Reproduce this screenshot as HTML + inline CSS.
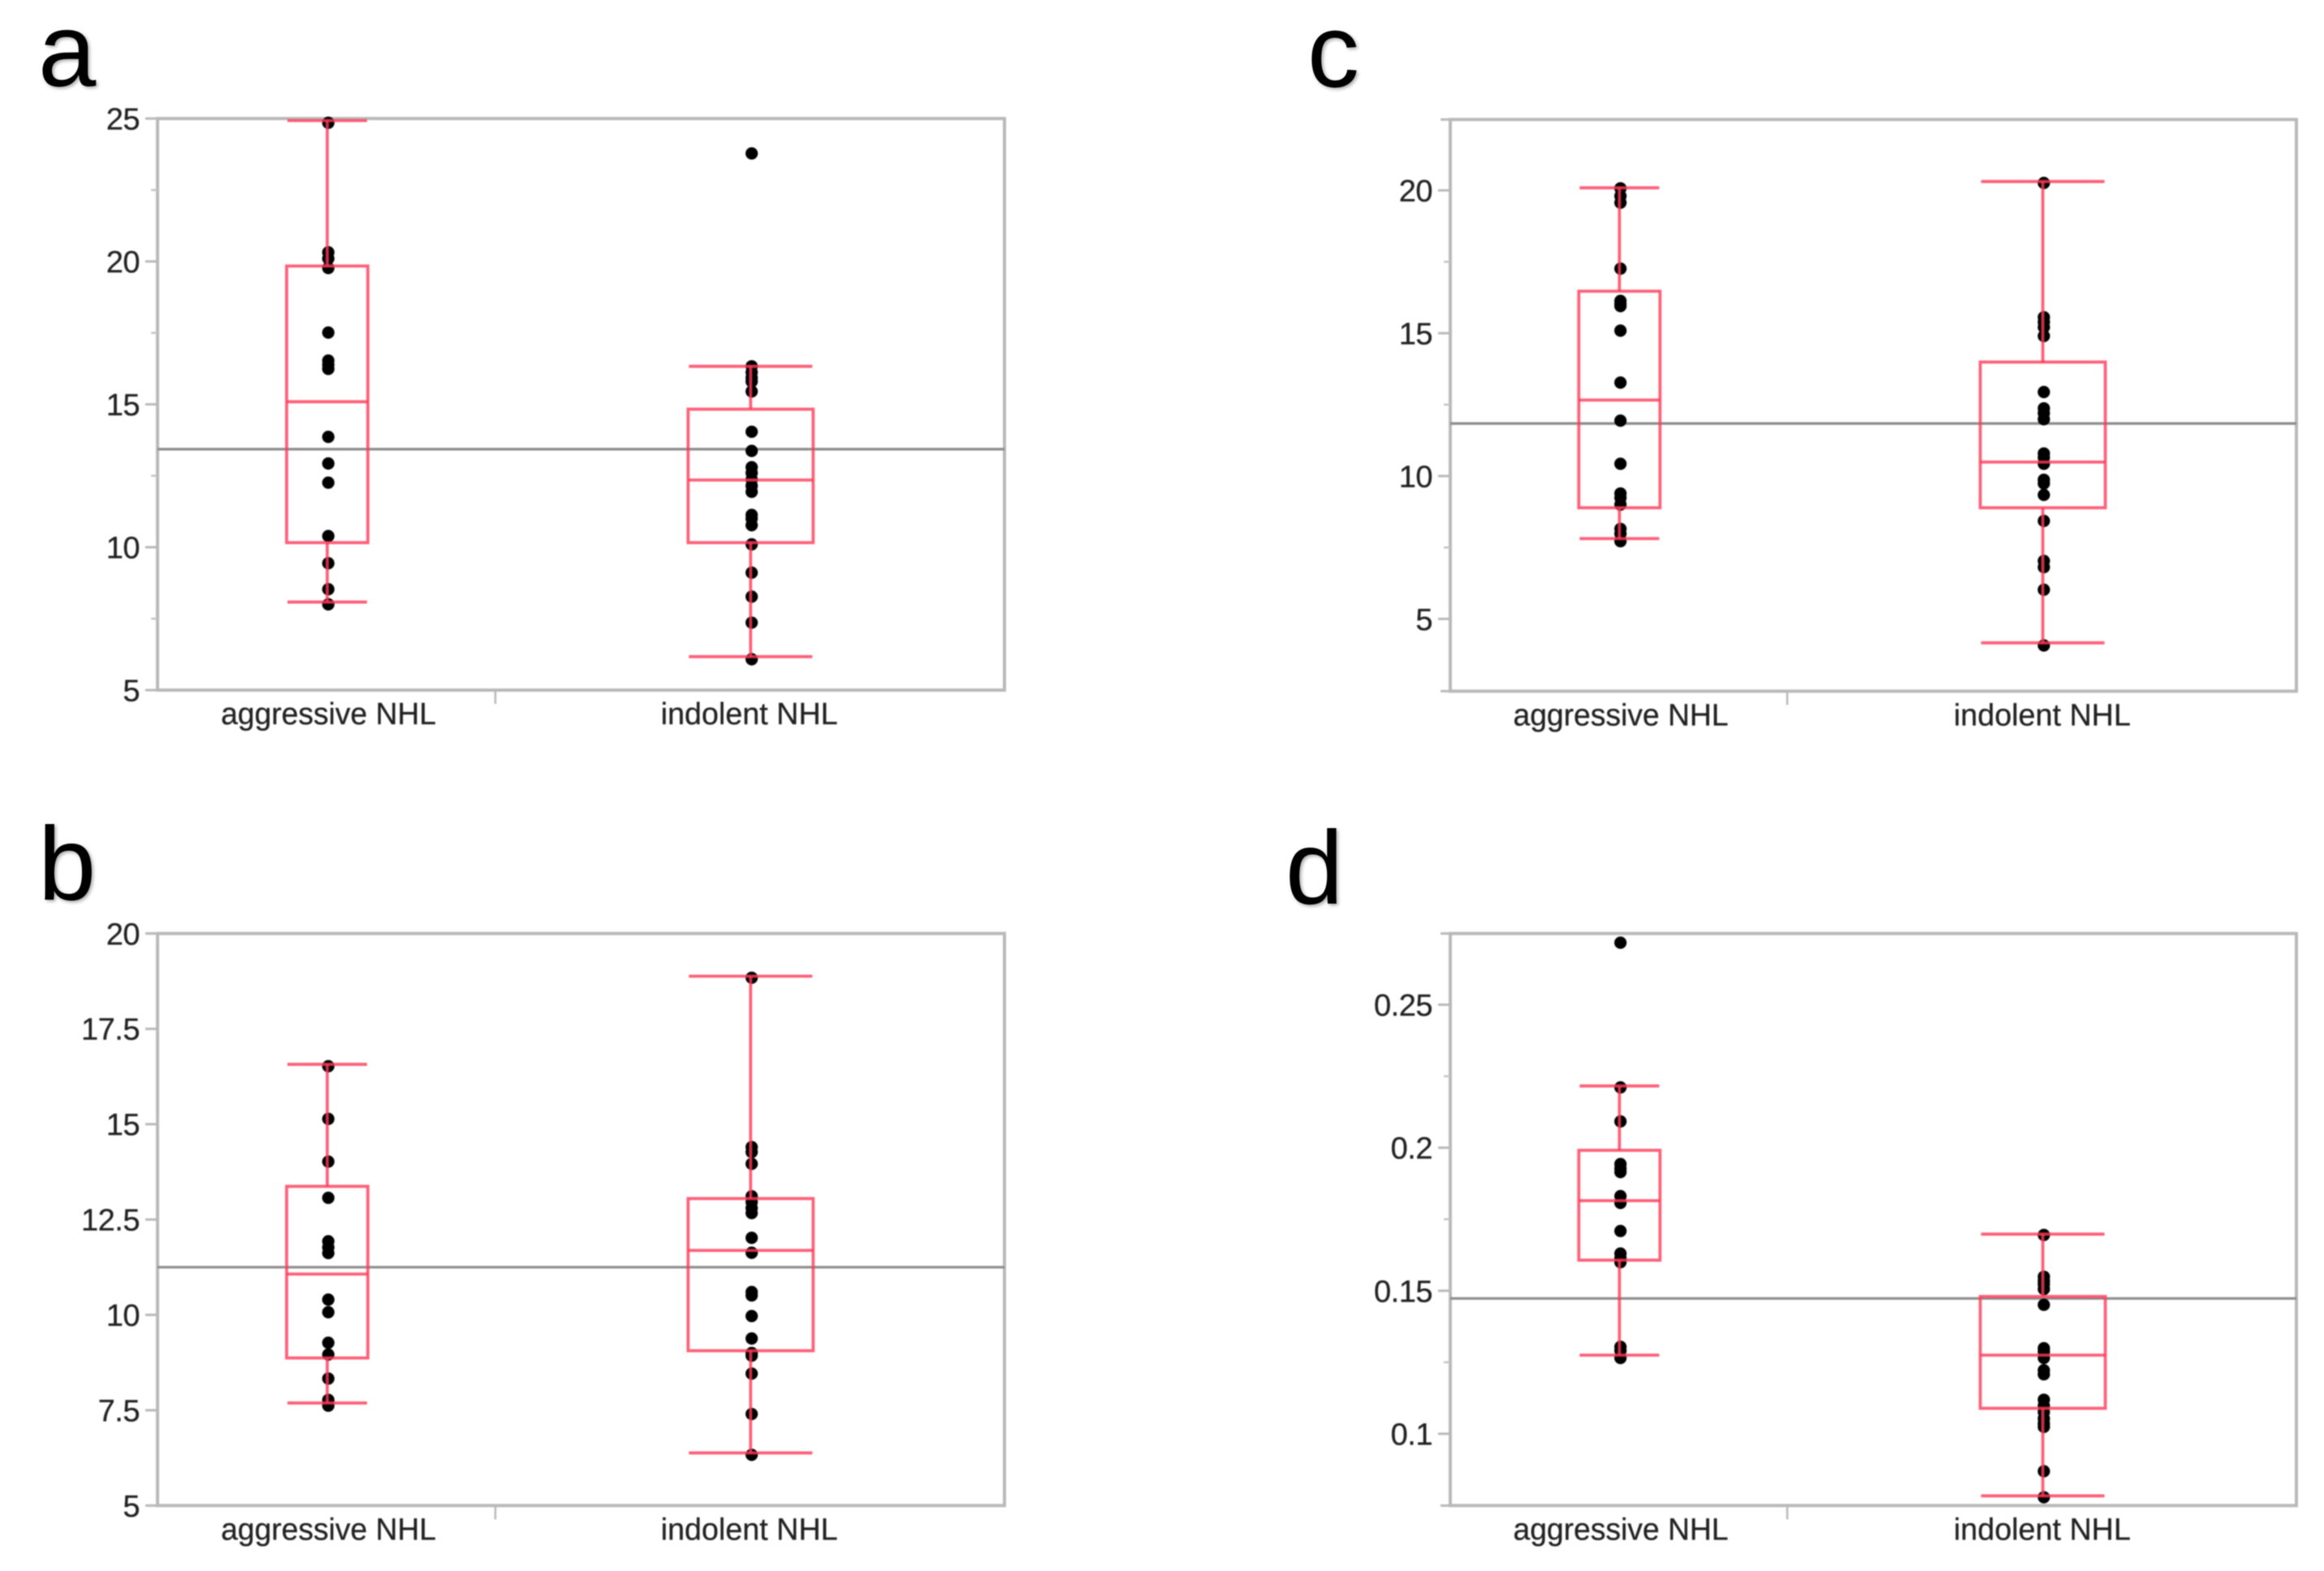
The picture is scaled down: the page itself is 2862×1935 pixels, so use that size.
<!DOCTYPE html>
<html lang="en">
<head>
<meta charset="utf-8">
<title>Box plots a-d: aggressive vs indolent NHL</title>
<style>
  html, body { margin: 0; padding: 0; background: #fff; }
  body { width: 2862px; height: 1935px; overflow: hidden; }
  svg { display: block; font-family: "Liberation Sans", sans-serif; }
  #plots { filter: blur(0.8px); }
  .panel-letter { font-size: 128px; fill: #000; filter: blur(0.6px) drop-shadow(2px 2px 2px rgba(0,0,0,.35)); }
  .tick-label { font-size: 38px; fill: #222; stroke: #222; stroke-width: 0.3px; }
  .category-label { font-size: 38px; fill: #222; stroke: #222; stroke-width: 0.3px; }
</style>
</head>
<body>
<svg id="figure" width="2862" height="1935" viewBox="0 0 2862 1935" xmlns="http://www.w3.org/2000/svg">
  <rect width="2862" height="1935" fill="#fff"></rect>
  <text class="panel-letter" x="47" y="106">a</text>
  <text class="panel-letter" x="1610" y="107">c</text>
  <text class="panel-letter" x="47" y="1108">b</text>
  <text class="panel-letter" x="1583" y="1113">d</text>
  <g id="plots"></g>
</svg>
<script>
// Shared categories
var categories = ['aggressive NHL', 'indolent NHL'];

// Panel a
var aDomain = [5, 25];
var aTicks = ['5', '10', '15', '20', '25'];
var aMinorTicks = [7.5, 12.5, 17.5, 22.5];
var aMean = 13.43;
var aAggressive = [24.85, 20.32, 20.1, 19.77, 17.51, 16.53, 16.38, 16.24, 13.86, 12.93, 12.26, 10.39, 9.44, 8.53, 8.0];
var aIndolent = [23.78, 16.33, 16.12, 15.93, 15.8, 15.45, 14.04, 13.37, 12.8, 12.6, 12.37, 12.15, 11.94, 11.13, 11.0, 10.77, 10.1, 9.11, 8.27, 7.36, 6.08];
var aAggressiveBox = [8.08, 10.16, 15.09, 19.84, 24.93];
var aIndolentBox = [6.17, 10.16, 12.35, 14.83, 16.33];

// Panel b
var bDomain = [5, 20];
var bTicks = ['5', '7.5', '10', '12.5', '15', '17.5', '20'];
var bMinorTicks = [];
var bMean = 11.25;
var bAggressive = [16.52, 15.14, 14.02, 13.07, 11.93, 11.77, 11.62, 10.4, 10.07, 9.27, 8.96, 8.33, 7.77, 7.62];
var bIndolent = [18.84, 14.4, 14.27, 13.96, 13.11, 12.96, 12.8, 12.67, 12.02, 11.63, 10.6, 10.51, 9.97, 9.38, 9.0, 8.93, 8.46, 7.4, 6.33];
var bAggressiveBox = [7.69, 8.87, 11.07, 13.37, 16.57];
var bIndolentBox = [6.38, 9.06, 11.69, 13.05, 18.88];

// Panel c
var cDomain = [2.47, 22.48];
var cTicks = ['5', '10', '15', '20'];
var cMinorTicks = [7.5, 12.5, 17.5];
var cMean = 11.84;
var cAggressive = [20.07, 19.8, 19.57, 17.26, 16.13, 16.02, 15.95, 15.09, 13.27, 11.94, 10.43, 9.39, 9.24, 9.0, 8.15, 7.98, 7.72];
var cIndolent = [20.26, 15.56, 15.39, 15.21, 14.9, 12.94, 12.37, 12.2, 11.99, 10.79, 10.65, 10.43, 9.87, 9.74, 9.34, 8.43, 7.03, 6.81, 6.02, 4.07];
var cAggressiveBox = [7.81, 8.89, 12.66, 16.47, 20.09];
var cIndolentBox = [4.16, 8.89, 10.49, 13.99, 20.31];

// Panel d
var dDomain = [0.0749, 0.2749];
var dTicks = ['0.1', '0.15', '0.2', '0.25'];
var dMinorTicks = [0.125, 0.175, 0.225];
var dMean = 0.1473;
var dAggressive = [0.2717, 0.2211, 0.2092, 0.1943, 0.1927, 0.1915, 0.1831, 0.1807, 0.1709, 0.163, 0.1614, 0.16, 0.1304, 0.1291, 0.1265];
var dIndolent = [0.1695, 0.1549, 0.1535, 0.1523, 0.1506, 0.1451, 0.1299, 0.1287, 0.1265, 0.1222, 0.1208, 0.1119, 0.1098, 0.1076, 0.1053, 0.1036, 0.1024, 0.0869, 0.0778];
var dAggressiveBox = [0.1275, 0.1607, 0.1815, 0.1991, 0.2216];
var dIndolentBox = [0.0783, 0.1089, 0.1275, 0.148, 0.1698];

var SVG_NS = 'http://www.w3.org/2000/svg';
var RED = '#ff3a58';
var root = document.getElementById('plots');

function make(parent, tag, attrs) {
  var el = document.createElementNS(SVG_NS, tag);
  for (var k in attrs) el.setAttribute(k, attrs[k]);
  parent.appendChild(el);
  return el;
}

function seg(parent, x1, y1, x2, y2, color, width, opacity) {
  return make(parent, 'line', {x1: x1, y1: y1, x2: x2, y2: y2, stroke: color, 'stroke-width': width, 'stroke-opacity': opacity === undefined ? 1 : opacity});
}

function drawBox(parent, yScale, stats, cx, halfBox, halfCap, label) {
  var lo = yScale(stats[0]), q1 = yScale(stats[1]), med = yScale(stats[2]), q3 = yScale(stats[3]), hi = yScale(stats[4]);
  var g = make(parent, 'g', {});
  
  

  var upper = seg(g, cx, hi, cx, q3, RED, 3.8, 0.8);
  
  

  var lower = seg(g, cx, q1, cx, lo, RED, 3.8, 0.8);
  
  

  var capHi = seg(g, cx - halfCap, hi, cx + halfCap, hi, RED, 3.8, 0.8);
  
  

  var capLo = seg(g, cx - halfCap, lo, cx + halfCap, lo, RED, 3.8, 0.8);
  
  

  var rect = make(g, 'rect', {x: cx - halfBox, y: q3, width: halfBox * 2, height: q1 - q3, fill: 'none', stroke: RED, 'stroke-width': 3.8, 'stroke-opacity': 0.8});
  
  

  var medLine = seg(g, cx - halfBox, med, cx + halfBox, med, RED, 3.8, 0.8);
  
  
}

function drawPanel(key, geom, domain, ticks, minorTicks, mean, series, boxes) {
  var top = geom.top, bottom = geom.bottom, left = geom.left, right = geom.right;
  function y(v) { return bottom - (v - domain[0]) / (domain[1] - domain[0]) * (bottom - top); }

  var panel = make(root, 'g', {});
  
  

  var frame = make(panel, 'rect', {x: left, y: top, width: right - left, height: bottom - top, fill: 'none', stroke: '#b9b9b9', 'stroke-width': 4});
  
  

  // end-of-axis stubs
  var stubTop = seg(panel, left - 12, top, left, top, '#b9b9b9', 3);
  
  

  var stubBottom = seg(panel, left - 12, bottom, left, bottom, '#b9b9b9', 3);
  
  

  ticks.forEach(function (t) {
    var ty = y(parseFloat(t));
    var mark = seg(panel, left - 15, ty, left, ty, '#b9b9b9', 3);
    
    

    var label = make(panel, 'text', {x: left - 22, y: ty + 13.5, 'text-anchor': 'end', 'class': 'tick-label', 'letter-spacing': '-0.5'});
    label.textContent = t;
    
    
  });

  minorTicks.forEach(function (t) {
    var ty = y(t);
    var mark = seg(panel, left - 8, ty, left, ty, '#c4c4c4', 2.5);
    
    
  });

  var xTick = seg(panel, geom.split, bottom, geom.split, bottom + 17, '#b9b9b9', 2.5);
  
  

  var meanLine = seg(panel, left, y(mean), right, y(mean), '#8c8c8c', 3.2);
  
  

  var slugs = ['aggressive', 'indolent'];
  series.forEach(function (vals, i) {
    var layer = make(panel, 'g', {});
    
    
    vals.forEach(function (v) {
      var dot = make(layer, 'circle', {cx: geom.centers[i] + 1.3, cy: y(v), r: 7.6, fill: '#000'});
      
      
    });
  });

  boxes.forEach(function (stats, i) {
    drawBox(panel, y, stats, geom.centers[i], geom.halfBox[i], geom.halfCap[i], slugs[i]);
  });

  categories.forEach(function (name, i) {
    var label = make(panel, 'text', {x: geom.labels[i], y: bottom + 42, 'text-anchor': 'middle', 'class': 'category-label', textLength: geom.labelWidths[i], lengthAdjust: 'spacingAndGlyphs'});
    label.textContent = name;
    
    
  });
}

var leftGeom = {left: 194, right: 1237, split: 610, centers: [403, 924.4], halfBox: [50, 77], halfCap: [49, 76], labels: [404.6, 922.7], labelWidths: [265, 218]};
var rightGeom = {left: 1786, right: 2828, split: 2201, centers: [1994.3, 2515.7], halfBox: [50, 77], halfCap: [49, 76], labels: [1996, 2515], labelWidths: [265, 218]};

function geomFor(base, top, bottom) {
  var g = {};
  for (var k in base) g[k] = base[k];
  g.top = top;
  g.bottom = bottom;
  return g;
}

drawPanel('a', geomFor(leftGeom, 146, 850), aDomain, aTicks, aMinorTicks, aMean, [aAggressive, aIndolent], [aAggressiveBox, aIndolentBox]);
drawPanel('b', geomFor(leftGeom, 1149.8, 1854.4), bDomain, bTicks, bMinorTicks, bMean, [bAggressive, bIndolent], [bAggressiveBox, bIndolentBox]);
drawPanel('c', geomFor(rightGeom, 147.2, 851.3), cDomain, cTicks, cMinorTicks, cMean, [cAggressive, cIndolent], [cAggressiveBox, cIndolentBox]);
drawPanel('d', geomFor(rightGeom, 1149.8, 1854.4), dDomain, dTicks, dMinorTicks, dMean, [dAggressive, dIndolent], [dAggressiveBox, dIndolentBox]);
</script>
</body>
</html>
